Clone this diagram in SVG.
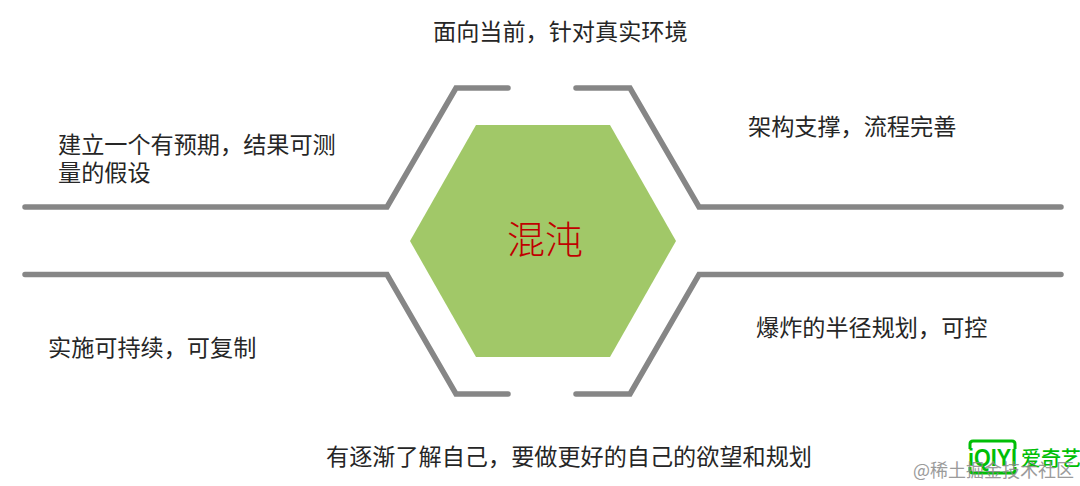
<svg xmlns="http://www.w3.org/2000/svg" width="1080" height="486" viewBox="0 0 1080 486">
<style>
.l{fill:none;stroke:#868686;stroke-width:5.5;stroke-linecap:round;stroke-linejoin:miter}
.t{font-family:"Noto Sans CJK SC",sans-serif;font-size:23.15px;fill:#262626}
.g{fill:#00be06;font-family:"Noto Sans CJK SC",sans-serif}
</style>
<rect width="1080" height="486" fill="#fff"/>
<g id="connectors">
<path class="l" d="M25 207H387L456 88H508"/>
<path class="l" d="M1061 207H699L630 88H576"/>
<path class="l" d="M25 274.500H387L456 394H508"/>
<path class="l" d="M1061 274.500H699L630 394H576"/>
</g>
<g id="center">
<polygon points="476,125 610,125 676,241 610,357 476,357 410,241" fill="#a1c868"/>
<text x="545" y="253" text-anchor="middle" font-family="'Noto Sans CJK SC',sans-serif" font-weight="300" font-size="38" fill="#c00000">混沌</text>
</g>
<g id="top"><text class="t" x="433" y="40">面向当前，针对真实环境</text></g>
<g id="top-left"><text class="t" x="58" y="153">建立一个有预期，结果可测</text><text class="t" x="58" y="181">量的假设</text></g>
<g id="top-right"><text class="t" x="748" y="135">架构支撑，流程完善</text></g>
<g id="bottom-left"><text class="t" x="48" y="356">实施可持续，可复制</text></g>
<g id="bottom-right"><text class="t" x="756" y="336">爆炸的半径规划，可控</text></g>
<g id="bottom"><text class="t" x="326" y="465">有逐渐了解自己，要做更好的自己的欲望和规划</text></g>
<g id="logo">
<path d="M970 449V444Q970 441 973 441H1012Q1015 441 1015 444V449" fill="none" stroke="#00be06" stroke-width="3"/>
<path d="M970 467V470Q970 473 973 473H1012Q1015 473 1015 470V467" fill="none" stroke="#00be06" stroke-width="3"/>
<text class="g" x="968" y="466" font-size="24" font-weight="700" textLength="49" lengthAdjust="spacingAndGlyphs" style="font-family:'Liberation Sans',sans-serif">iQIYI</text>
<text class="g" x="1021" y="466" font-size="20" font-weight="500">爱奇艺</text>
</g>
<g id="watermark"><text x="913" y="477" font-family="'Noto Sans CJK SC',sans-serif" font-size="18" fill="#8a8a8a" opacity="0.85">@稀土掘金技术社区</text></g>
</svg>
